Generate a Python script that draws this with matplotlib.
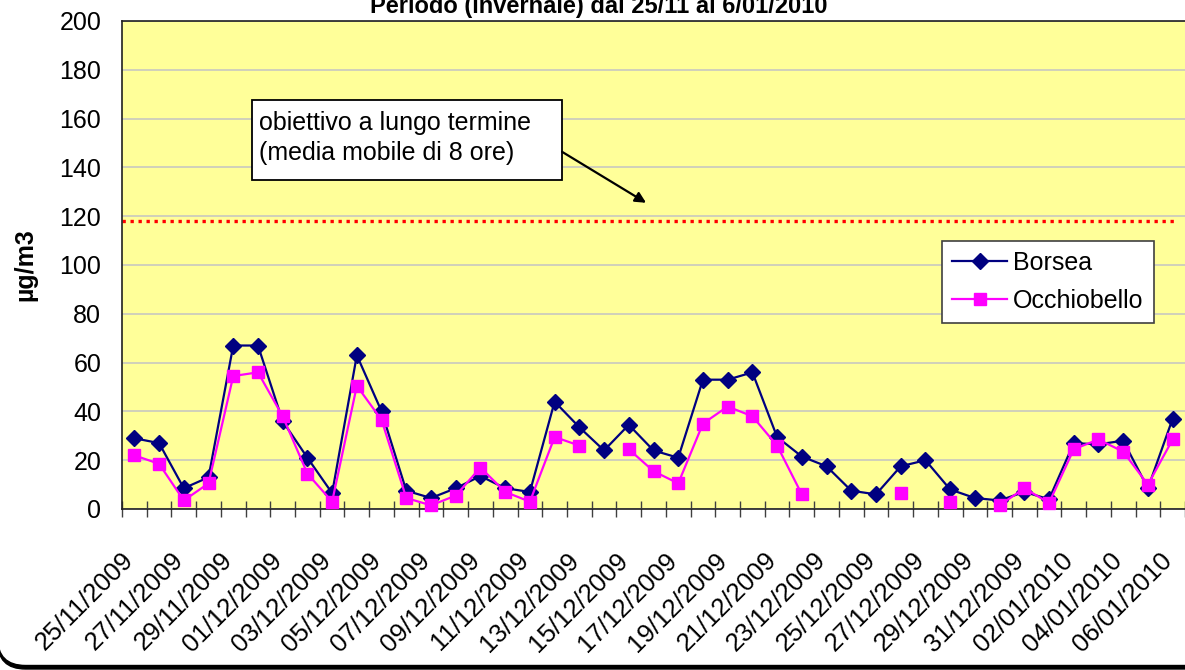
import matplotlib
matplotlib.use("Agg")
import matplotlib.pyplot as plt
from matplotlib.patches import FancyBboxPatch, Rectangle
from matplotlib.transforms import ScaledTranslation
import numpy as np
import pandas as pd

plt.rcParams['font.family'] = ['Liberation Sans', 'DejaVu Sans']

# dates 25/11/2009 .. 06/01/2010
days = pd.date_range('2009-11-25', '2010-01-06', freq='D')
date_labels = [d.strftime('%d/%m/%Y') for d in days]

borsea = [29, 27, 8.5, 13, 67, 67, 36, 21, 6.5, 63,
          40, 7.5, 4.5, 8.5, 13.5, 8.5, 7, 44, 33.5, 24,
          34.5, 24, 21, 53, 53, 56, 29.5, 21.5, 17.5, 7.5,
          6, 17.5, 20, 8, 4.5, 3.5, 7, 4, 27, 26.5,
          28, 8.5, 37]
occhiobello = [22, 18.5, 3.5, 10.5, 54.5, 56, 38, 14.5, 3, 50.5,
               36.5, 4.5, 1.5, 5.5, 17, 7, 3, 29.5, 26, np.nan,
               24.5, 15.5, 10.5, 35, 42, 38, 26, 6, np.nan, np.nan,
               np.nan, 6.5, np.nan, 3, np.nan, 1.5, 8.5, 2.5, 24.5, 28.5,
               23.5, 10, 28.5]
target = 118
y_ticks = list(range(0, 201, 20))

x = np.arange(len(days))

fig = plt.figure(figsize=(11.85, 6.7), dpi=100)
ax = fig.add_axes([122/1185, 1 - 509/670, 1063/1185, 488/670])
ax.set_facecolor('#FFFF99')

# rounded chart frame with shadow
shadow = FancyBboxPatch((-0.025, 0.01), 12.6, 7.3, boxstyle='round,pad=0,rounding_size=0.28',
                        transform=fig.dpi_scale_trans, facecolor='black', edgecolor='black', zorder=-10)
frame = FancyBboxPatch((-0.025, 0.045), 12.6, 7.3, boxstyle='round,pad=0,rounding_size=0.28',
                       transform=fig.dpi_scale_trans, facecolor='white', edgecolor='black',
                       linewidth=1, zorder=-9)
fig.patches.extend([shadow, frame])

ax.set_ylim(0, 200)
ax.set_xlim(-0.5, len(days) - 0.5)
ax.set_yticks(y_ticks)
ax.grid(axis='y', color='#c8c8c0', linewidth=1.2)
ax.set_axisbelow(True)

ax.plot(x, borsea, color='#000080', marker='D', markersize=8, linewidth=1.6,
        label='Borsea', clip_on=False, zorder=3)
ax.plot(x, occhiobello, color='#FF00FF', marker='s', markersize=8, linewidth=1.6,
        label='Occhiobello', clip_on=False, zorder=4)

ax.axhline(target, xmin=0, xmax=0.992, color='red', linewidth=2.4,
           linestyle=(0, (1, 1.4)), zorder=2)

# x axis: tick marks between categories, labels every 2 days
ax.set_xticks(np.arange(-0.5, len(days), 1))
ax.set_xticklabels([])
ax.tick_params(axis='x', which='major', direction='inout', length=11, width=1, color='#404040')
ax.set_xticks(x[::2], minor=True)
ax.set_xticklabels(date_labels[::2], minor=True, rotation=45, ha='right',
                   rotation_mode='anchor', fontsize=18.5)
ax.tick_params(axis='x', which='minor', length=0, pad=28)
shift = ScaledTranslation(-0.13, 0, fig.dpi_scale_trans)
for lab in ax.get_xticklabels(minor=True):
    lab.set_transform(lab.get_transform() + shift)
ax.tick_params(axis='y', length=0, labelsize=18, pad=15)

for s in ['left', 'bottom', 'top']:
    ax.spines[s].set_color('#202020')
    ax.spines[s].set_linewidth(1.2)
ax.spines['right'].set_visible(False)

ax.set_ylabel('µg/m3', fontsize=18, fontweight='bold', labelpad=16)

fig.text(599/1185, 1 - 13/670, 'Periodo (invernale) dal 25/11 al 6/01/2010',
         ha='center', va='baseline', fontsize=17, fontweight='bold')

# annotation box and arrow
ax.add_patch(Rectangle((4.75, 134.8), 12.55, 32.8, facecolor='white', edgecolor='black',
                       linewidth=1.3, zorder=5))
ax.text(5.05, 152, 'obiettivo a lungo termine\n(media mobile di 8 ore)', fontsize=18,
        va='center', ha='left', linespacing=1.3, zorder=6)
ax.annotate('', xy=(20.7, 125.5), xytext=(17.3, 146.4),
            arrowprops=dict(arrowstyle='-|>', color='black', lw=1.6, mutation_scale=16,
                            shrinkA=0, shrinkB=0), zorder=6)

leg = ax.legend(loc='upper left', bbox_to_anchor=(942/1185, 1 - 241/670),
                bbox_transform=fig.transFigure, borderaxespad=0, fontsize=18,
                fancybox=False, framealpha=1, edgecolor='#404040',
                handlelength=2.2, handletextpad=0.25, labelspacing=0.55, borderpad=0.4)
leg.get_frame().set_linewidth(1.2)

fig.savefig('out.png', dpi=100)
